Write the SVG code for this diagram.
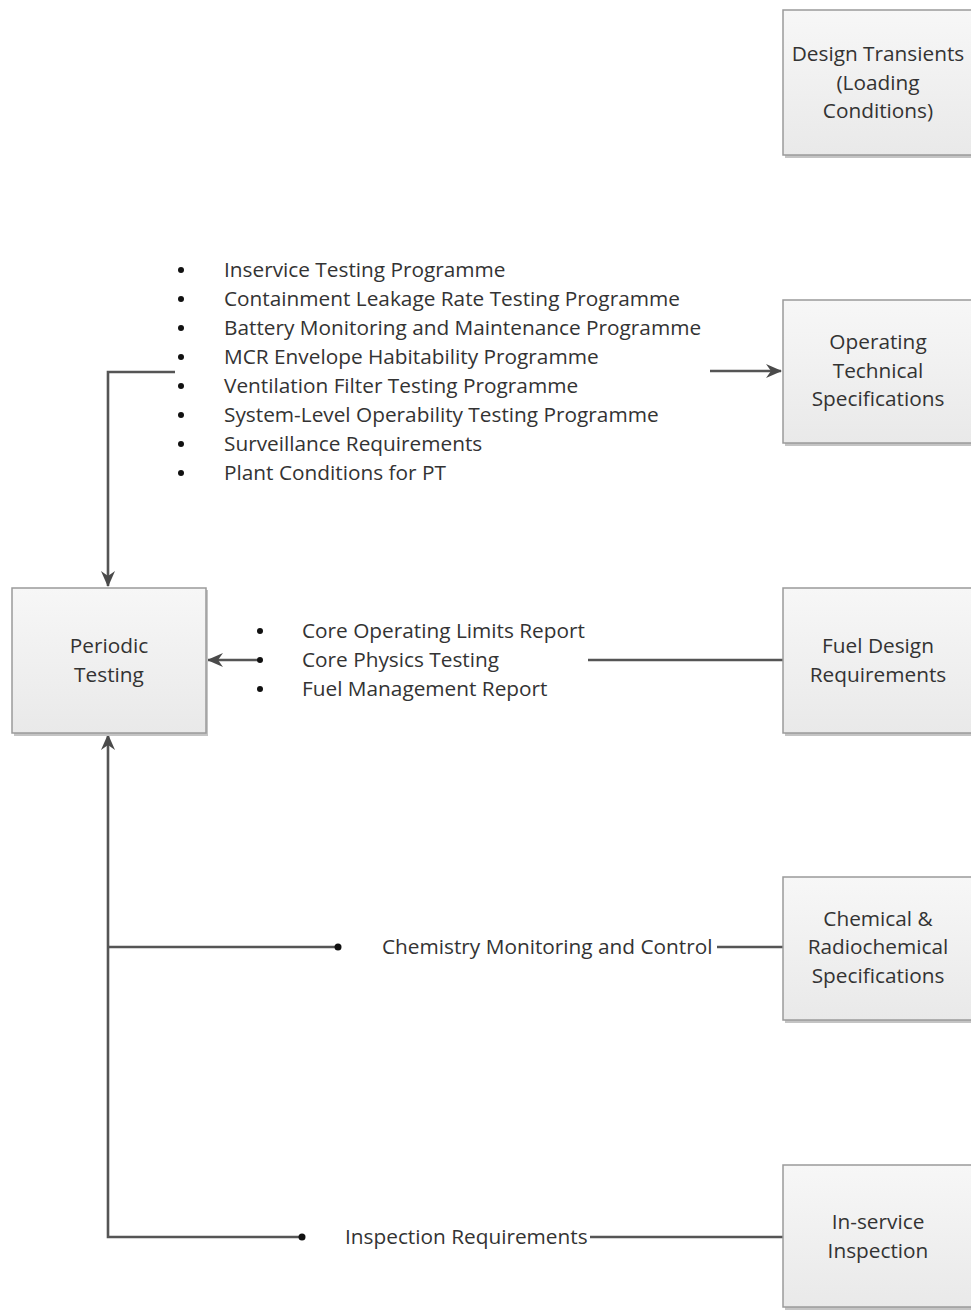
<svg xmlns="http://www.w3.org/2000/svg" width="971" height="1310" viewBox="0 0 971 1310">
  <defs>
    <linearGradient id="boxFill" x1="0" y1="0" x2="0" y2="1">
      <stop offset="0" stop-color="#f7f7f7"/>
      <stop offset="1" stop-color="#e9e9e9"/>
    </linearGradient>
    <marker id="arrow" viewBox="0 0 16 14" refX="15" refY="7" markerWidth="16" markerHeight="14" markerUnits="userSpaceOnUse" orient="auto">
      <path d="M0,0 L16,7 L0,14 L5,7 Z" fill="#4a4a4a"/>
    </marker>
  </defs>
  <style>
    .box { fill: url(#boxFill); stroke: #9a9a9a; stroke-width: 1.5; }
    .shadow { fill: #c4c4c4; }
    .t { font-family: "Open Sans", "Liberation Sans", sans-serif; font-size: 20.8px; fill: #333333; }
    .c { text-anchor: middle; }
    .line { stroke: #555555; stroke-width: 2.6; fill: none; }
    .dot { fill: #111; }
  </style>
  <rect width="971" height="1310" fill="#ffffff"/>

  <!-- connectors -->
  <g id="connectors">
    <path class="line" d="M175,372 H108 V586" marker-end="url(#arrow)"/>
    <path class="line" d="M710,371 H781" marker-end="url(#arrow)"/>
    <path class="line" d="M588,660 H783"/>
    <path class="line" d="M260,660 H208" marker-end="url(#arrow)"/>
    <path class="line" d="M302,1237 H108 V735" marker-end="url(#arrow)"/>
    <path class="line" d="M108,947 H338"/>
    <path class="line" d="M717,947 H783"/>
    <path class="line" d="M590,1237 H783"/>
    <circle class="dot" cx="338" cy="947" r="3.5"/>
    <circle class="dot" cx="302" cy="1237" r="3.5"/>
  </g>

  <!-- nodes -->
  <g id="design-transients">
    <rect class="shadow" x="785" y="12" width="190" height="146"/>
    <rect class="box" x="783" y="10" width="190" height="145"/>
    <text class="t c" x="878" y="61">Design Transients</text>
    <text class="t c" x="878" y="90">(Loading</text>
    <text class="t c" x="878" y="118">Conditions)</text>
  </g>

  <g id="operating-tech-specs">
    <rect class="shadow" x="785" y="302" width="190" height="144"/>
    <rect class="box" x="783" y="300" width="190" height="143"/>
    <text class="t c" x="878" y="349">Operating</text>
    <text class="t c" x="878" y="378">Technical</text>
    <text class="t c" x="878" y="406">Specifications</text>
  </g>

  <g id="periodic-testing">
    <rect class="shadow" x="14" y="590" width="194" height="146"/>
    <rect class="box" x="12" y="588" width="194" height="145"/>
    <text class="t c" x="109" y="653">Periodic</text>
    <text class="t c" x="109" y="682">Testing</text>
  </g>

  <g id="fuel-design">
    <rect class="shadow" x="785" y="590" width="190" height="146"/>
    <rect class="box" x="783" y="588" width="190" height="145"/>
    <text class="t c" x="878" y="653">Fuel Design</text>
    <text class="t c" x="878" y="682">Requirements</text>
  </g>

  <g id="chemical-specs">
    <rect class="shadow" x="785" y="879" width="190" height="144"/>
    <rect class="box" x="783" y="877" width="190" height="143"/>
    <text class="t c" x="878" y="926">Chemical &amp;</text>
    <text class="t c" x="878" y="954">Radiochemical</text>
    <text class="t c" x="878" y="983">Specifications</text>
  </g>

  <g id="inservice-inspection">
    <rect class="shadow" x="785" y="1167" width="190" height="143"/>
    <rect class="box" x="783" y="1165" width="190" height="142"/>
    <text class="t c" x="878" y="1229">In-service</text>
    <text class="t c" x="878" y="1258">Inspection</text>
  </g>

  <!-- periodic testing programme list -->
  <g id="pt-programmes">
    <circle class="dot" cx="181" cy="270" r="3"/>
    <circle class="dot" cx="181" cy="299" r="3"/>
    <circle class="dot" cx="181" cy="328" r="3"/>
    <circle class="dot" cx="181" cy="357" r="3"/>
    <circle class="dot" cx="181" cy="386" r="3"/>
    <circle class="dot" cx="181" cy="415" r="3"/>
    <circle class="dot" cx="181" cy="444" r="3"/>
    <circle class="dot" cx="181" cy="473" r="3"/>
    <text class="t" x="224" y="277">Inservice Testing Programme</text>
    <text class="t" x="224" y="306">Containment Leakage Rate Testing Programme</text>
    <text class="t" x="224" y="335">Battery Monitoring and Maintenance Programme</text>
    <text class="t" x="224" y="364">MCR Envelope Habitability Programme</text>
    <text class="t" x="224" y="393">Ventilation Filter Testing Programme</text>
    <text class="t" x="224" y="422">System-Level Operability Testing Programme</text>
    <text class="t" x="224" y="451">Surveillance Requirements</text>
    <text class="t" x="224" y="480">Plant Conditions for PT</text>
  </g>

  <!-- core documents list -->
  <g id="core-documents">
    <circle class="dot" cx="260" cy="631" r="3"/>
    <circle class="dot" cx="260" cy="660" r="3"/>
    <circle class="dot" cx="260" cy="689" r="3"/>
    <text class="t" x="302" y="638">Core Operating Limits Report</text>
    <text class="t" x="302" y="667">Core Physics Testing</text>
    <text class="t" x="302" y="696">Fuel Management Report</text>
  </g>

  <g id="chemistry-label">
    <text class="t" x="382" y="954">Chemistry Monitoring and Control</text>
  </g>

  <g id="inspection-label">
    <text class="t" x="345" y="1244">Inspection Requirements</text>
  </g>
</svg>
